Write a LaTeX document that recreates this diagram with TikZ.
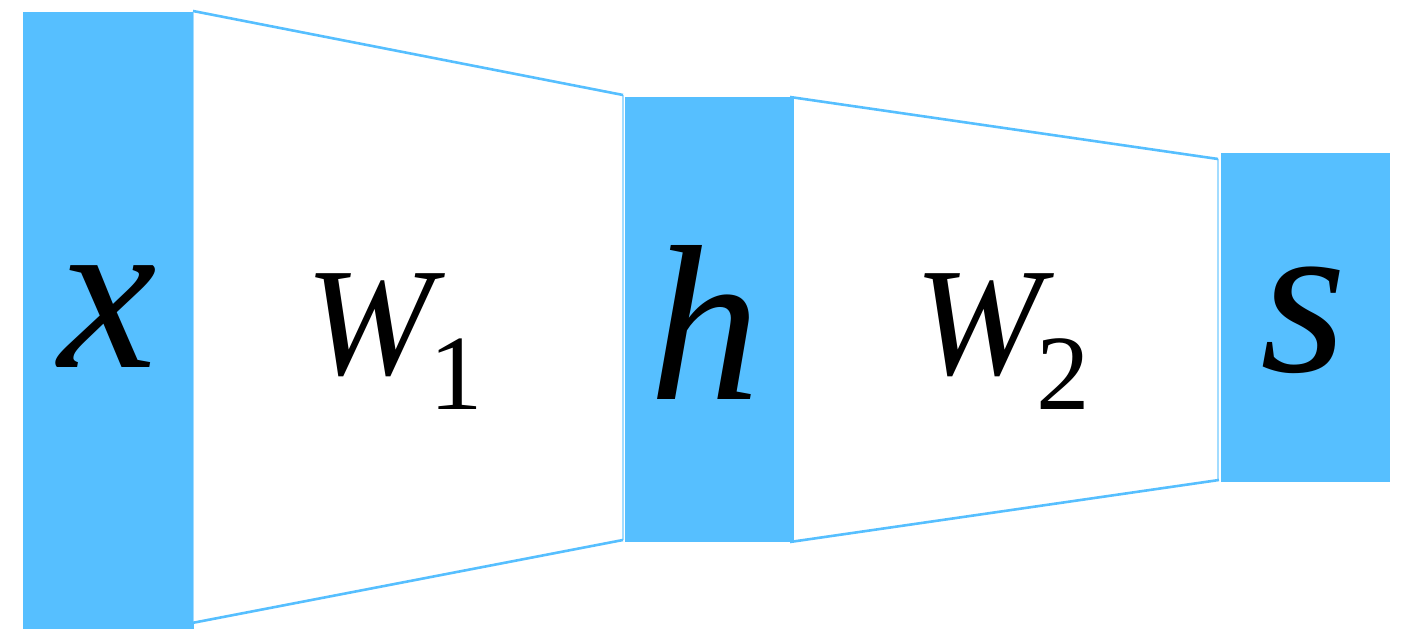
\documentclass[tikz,border=0pt]{standalone}
\usepackage{fontspec}
\setmainfont{Liberation Serif}
\definecolor{nnblue}{RGB}{86,191,255}
\begin{document}
\begin{tikzpicture}[x=0.5pt,y=-0.5pt,
  box/.style={fill=nnblue, draw=none, inner sep=0pt, outer sep=0pt, anchor=north west},
  link/.style={draw=nnblue, line width=1.3pt},
  side/.style={draw=nnblue!55, line width=0.6pt},
  big/.style={font=\fontsize{111}{120}\selectfont\itshape, inner sep=0pt, anchor=base},
  wlab/.style={font=\fontsize{77}{84}\selectfont\itshape, inner sep=0pt, anchor=base},
  sub/.style={font=\fontsize{53.5}{60}\selectfont, inner sep=0pt, anchor=base}]
\useasboundingbox (0,0) rectangle (1408,635);
% layer boxes
\node[box, minimum width=85.5pt, minimum height=308.5pt] (xb) at (23,12) {};
\node[box, minimum width=84.5pt, minimum height=222.5pt] (hb) at (625,97) {};
\node[box, minimum width=84.5pt, minimum height=164.5pt] (sb) at (1221,153) {};
% trapezoid 1
\draw[side] ([shift={(-0.5,-1)}]xb.north east) -- ([shift={(-0.5,-6)}]xb.south east);
\draw[side] ([shift={(-2,-2)}]hb.north west) -- ([shift={(-2,-2)}]hb.south west);
\draw[link] ([shift={(-1,-1)}]xb.north east) -- ([shift={(-2,-2)}]hb.north west);
\draw[link] ([shift={(-2,-6)}]xb.south east) -- ([shift={(-2,-2)}]hb.south west);
% trapezoid 2
\draw[side] ([shift={(-3,6)}]sb.north west) -- ([shift={(-3,-2)}]sb.south west);
\draw[link] ([shift={(-4,0)}]hb.north east) -- ([shift={(-3,6)}]sb.north west);
\draw[link] ([shift={(-4,0)}]hb.south east) -- ([shift={(-2,-2)}]sb.south west);
% labels
\node[big] (lx) at (108,368) {x};
\node[big] (lh) at (705,400) {h};
\node[big] (ls) at (1304,372) {s};
\node[wlab] (w1) at (370,375) {W};
\node[sub] (n1) at (456,410) {1};
\node[wlab] (w2) at (979,375) {W};
\node[sub] (n2) at (1063,410) {2};
\end{tikzpicture}
\end{document}
